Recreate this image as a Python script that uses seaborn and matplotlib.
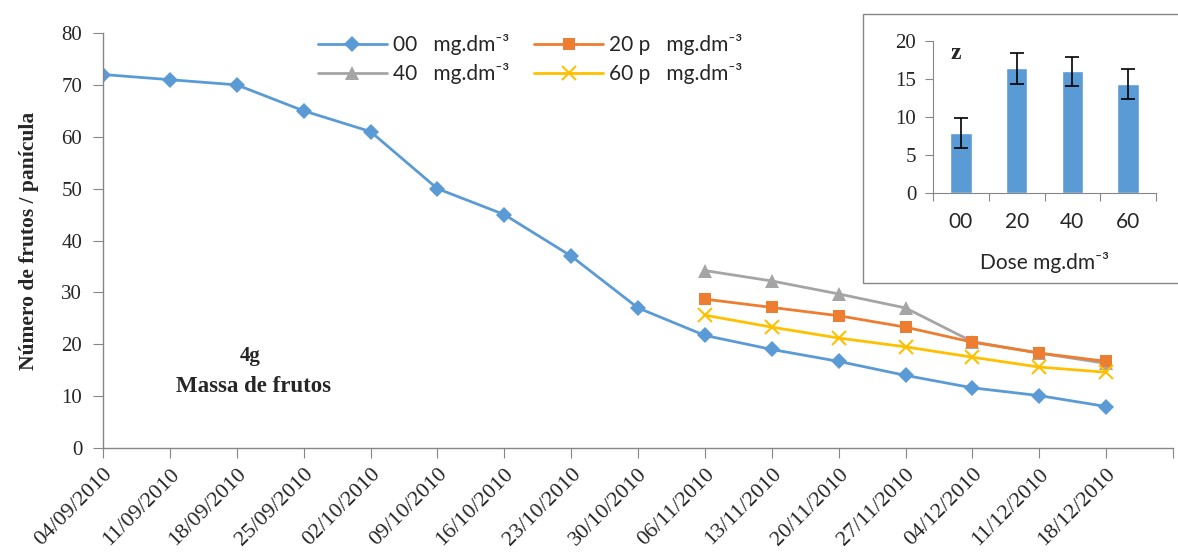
import numpy as np
import matplotlib
matplotlib.use('Agg')
import matplotlib.pyplot as plt
import seaborn as sns
from matplotlib.patches import Rectangle

# Data
dates = ['04/09/2010', '11/09/2010', '18/09/2010', '25/09/2010', '02/10/2010',
         '09/10/2010', '16/10/2010', '23/10/2010', '30/10/2010', '06/11/2010',
         '13/11/2010', '20/11/2010', '27/11/2010', '04/12/2010', '11/12/2010',
         '18/12/2010']
dose00 = [72, 71, 70, 65, 61, 50, 45, 37, 27, 21.7, 19.0, 16.7, 14.0, 11.6, 10.1, 8.0]
late_dates = dates[9:]
dose20 = [28.7, 27.1, 25.5, 23.3, 20.4, 18.3, 16.7]
dose40 = [34.2, 32.2, 29.7, 27.0, 20.5, 18.3, 16.3]
dose60 = [25.6, 23.3, 21.2, 19.5, 17.5, 15.6, 14.6]

inset_doses = ['00', '20', '40', '60']
inset_means = [7.9, 16.4, 16.0, 14.3]
inset_err = [2.0, 2.0, 1.95, 1.95]

sns.set_style('white')
plt.rcParams['font.family'] = ['Liberation Serif', 'DejaVu Serif']

blue, orange, gray, yellow = '#5B9BD5', '#ED7D31', '#A5A5A5', '#FFC000'
axis_col = '#868686'
sans = ['Lato', 'DejaVu Sans']

W, H = 1178, 558
fig = plt.figure(figsize=(W / 100, H / 100), dpi=100)
ax = fig.add_axes([103 / W, 1 - 448 / H, (1173 - 103) / W, (448 - 33) / H])

pos_all = {d: i for i, d in enumerate(dates)}
x_all = [pos_all[d] for d in dates]
x_late = [pos_all[d] for d in late_dates]

sns.lineplot(x=x_all, y=dose00, ax=ax, color=blue, marker='D', markersize=8,
             markeredgewidth=0, linewidth=2, label='00   mg.dm⁻³')
sns.lineplot(x=x_late, y=dose40, ax=ax, color=gray, marker='^', markersize=10,
             markeredgewidth=0, linewidth=2, label='40   mg.dm⁻³')
sns.lineplot(x=x_late, y=dose20, ax=ax, color=orange, marker='s', markersize=8,
             markeredgewidth=0, linewidth=2, label='20 p   mg.dm⁻³')
sns.lineplot(x=x_late, y=dose60, ax=ax, color=yellow, marker='x', markersize=10,
             markeredgewidth=1.5, markeredgecolor=yellow, linewidth=2,
             label='60 p   mg.dm⁻³')

ax.set_xlim(0, len(dates))
ax.set_ylim(0, 80)
ax.set_yticks(range(0, 81, 10))
ax.set_xticks(range(len(dates) + 1))
ax.set_xticklabels(dates + [''], rotation=45, ha='right', rotation_mode='anchor',
                   fontsize=16)
ax.tick_params(axis='y', labelsize=15, length=7, color=axis_col, direction='out',
               left=True, pad=8)
ax.tick_params(axis='x', length=7, color=axis_col, direction='out', bottom=True, pad=5)
for s in ['top', 'right']:
    ax.spines[s].set_visible(False)
for s in ['left', 'bottom']:
    ax.spines[s].set_color(axis_col)
    ax.spines[s].set_linewidth(1)
ax.set_ylabel('Número de frutos / panícula', fontsize=15.5, fontweight='bold', labelpad=16)
ax.set_xlabel('')

fig.text(250 / W, 1 - 356 / H, '4g', fontsize=15, fontweight='bold', ha='center', va='center')
fig.text(253 / W, 1 - 387 / H, 'Massa de frutos', fontsize=16.5, fontweight='bold',
         ha='center', va='center')

handles, labels = ax.get_legend_handles_labels()
leg = ax.legend(handles, labels, ncol=2, loc='upper left',
                bbox_to_anchor=(318 / W, 1 - 34 / H), bbox_transform=fig.transFigure,
                frameon=False, handlelength=3.3, handletextpad=0.3, columnspacing=1.2,
                labelspacing=0.4, borderaxespad=0, borderpad=0,
                prop={'family': sans, 'size': 15})

# Inset frame
fig.patches.append(Rectangle((863 / W, 1 - 283 / H), 0.3, (283 - 14) / H,
                             transform=fig.transFigure, facecolor='white',
                             edgecolor=axis_col, linewidth=1, zorder=5))

ins = fig.add_axes([933 / W, 1 - 193 / H, (1156 - 933) / W, (193 - 41) / H])
ins.set_zorder(6)
sns.barplot(x=inset_doses, y=inset_means, ax=ins, color=blue, width=0.39, saturation=1)
ins.errorbar(x=range(len(inset_doses)), y=inset_means, yerr=inset_err, fmt='none',
             ecolor='black', elinewidth=1.2, capsize=5, capthick=1.2)
ins.set_ylim(0, 20)
ins.set_yticks(range(0, 21, 5))
ins.set_xlim(-0.5, 3.5)
for s in ['top', 'right']:
    ins.spines[s].set_visible(False)
for s in ['left', 'bottom']:
    ins.spines[s].set_color(axis_col)
ins.tick_params(axis='y', labelsize=15, length=6, color=axis_col, left=True,
                direction='out', pad=6)
ins.set_xticks([-0.5, 0.5, 1.5, 2.5, 3.5], minor=False)
ins.set_xticklabels([''] * 5)
ins.set_xticks(range(len(inset_doses)), minor=True)
ins.set_xticklabels(inset_doses, minor=True, family=sans, fontsize=15)
ins.tick_params(axis='x', which='major', length=6, color=axis_col, bottom=True, direction='out')
ins.tick_params(axis='x', which='minor', length=0, pad=14)
ins.set_xlabel('Dose mg.dm⁻³', family=sans, fontsize=15, labelpad=14)
ins.set_ylabel('')
ins.text(0.08, 0.92, 'z', transform=ins.transAxes, fontsize=17, fontweight='bold',
         va='center', ha='left')
ins.patch.set_alpha(0)

fig.savefig('out.png', dpi=100)
